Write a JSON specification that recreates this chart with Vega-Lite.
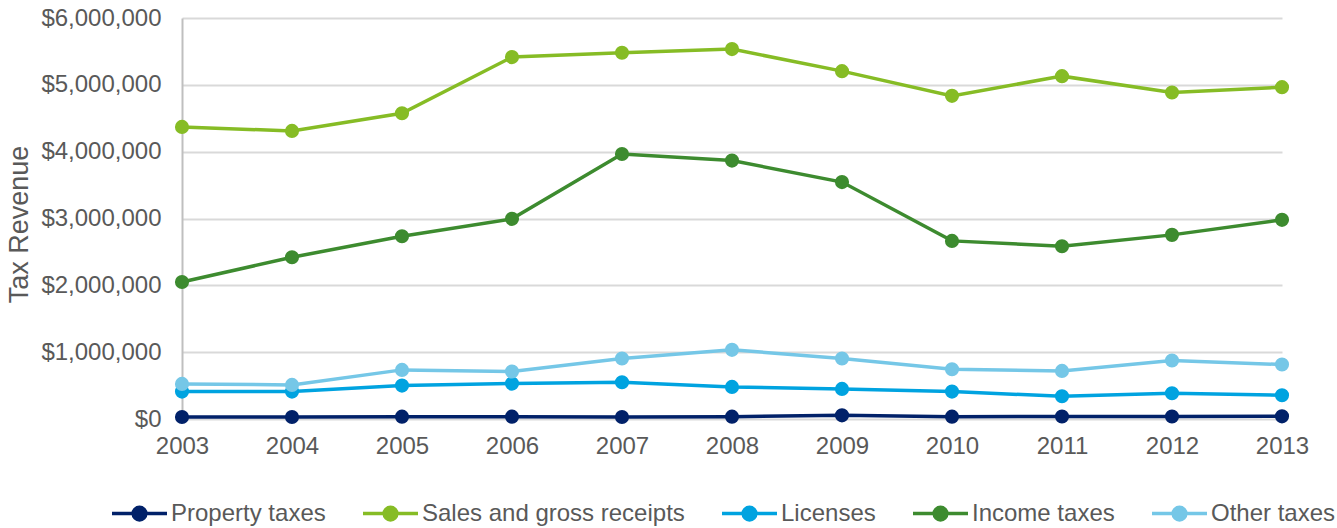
{
  "$schema": "https://vega.github.io/schema/vega-lite/v6.json",
  "width": 1100,
  "height": 401,
  "autosize": {"type": "none"},
  "padding": {"left": 182, "top": 18, "right": 55, "bottom": 109},
  "background": "white",
  "config": {
    "view": {"stroke": null},
    "font": "Liberation Sans"
  },
  "data": {
    "values": [
      {"year": "2003", "series": "Property taxes", "value": 30000},
      {"year": "2004", "series": "Property taxes", "value": 30000},
      {"year": "2005", "series": "Property taxes", "value": 35000},
      {"year": "2006", "series": "Property taxes", "value": 35000},
      {"year": "2007", "series": "Property taxes", "value": 30000},
      {"year": "2008", "series": "Property taxes", "value": 35000},
      {"year": "2009", "series": "Property taxes", "value": 55000},
      {"year": "2010", "series": "Property taxes", "value": 35000},
      {"year": "2011", "series": "Property taxes", "value": 38000},
      {"year": "2012", "series": "Property taxes", "value": 38000},
      {"year": "2013", "series": "Property taxes", "value": 40000},
      {"year": "2003", "series": "Sales and gross receipts", "value": 4370000},
      {"year": "2004", "series": "Sales and gross receipts", "value": 4310000},
      {"year": "2005", "series": "Sales and gross receipts", "value": 4575000},
      {"year": "2006", "series": "Sales and gross receipts", "value": 5415000},
      {"year": "2007", "series": "Sales and gross receipts", "value": 5480000},
      {"year": "2008", "series": "Sales and gross receipts", "value": 5535000},
      {"year": "2009", "series": "Sales and gross receipts", "value": 5205000},
      {"year": "2010", "series": "Sales and gross receipts", "value": 4835000},
      {"year": "2011", "series": "Sales and gross receipts", "value": 5130000},
      {"year": "2012", "series": "Sales and gross receipts", "value": 4885000},
      {"year": "2013", "series": "Sales and gross receipts", "value": 4965000},
      {"year": "2003", "series": "Licenses", "value": 410000},
      {"year": "2004", "series": "Licenses", "value": 410000},
      {"year": "2005", "series": "Licenses", "value": 500000},
      {"year": "2006", "series": "Licenses", "value": 530000},
      {"year": "2007", "series": "Licenses", "value": 550000},
      {"year": "2008", "series": "Licenses", "value": 480000},
      {"year": "2009", "series": "Licenses", "value": 450000},
      {"year": "2010", "series": "Licenses", "value": 410000},
      {"year": "2011", "series": "Licenses", "value": 340000},
      {"year": "2012", "series": "Licenses", "value": 385000},
      {"year": "2013", "series": "Licenses", "value": 355000},
      {"year": "2003", "series": "Income taxes", "value": 2050000},
      {"year": "2004", "series": "Income taxes", "value": 2420000},
      {"year": "2005", "series": "Income taxes", "value": 2735000},
      {"year": "2006", "series": "Income taxes", "value": 2995000},
      {"year": "2007", "series": "Income taxes", "value": 3965000},
      {"year": "2008", "series": "Income taxes", "value": 3867000},
      {"year": "2009", "series": "Income taxes", "value": 3545000},
      {"year": "2010", "series": "Income taxes", "value": 2665000},
      {"year": "2011", "series": "Income taxes", "value": 2585000},
      {"year": "2012", "series": "Income taxes", "value": 2755000},
      {"year": "2013", "series": "Income taxes", "value": 2980000},
      {"year": "2003", "series": "Other taxes", "value": 525000},
      {"year": "2004", "series": "Other taxes", "value": 510000},
      {"year": "2005", "series": "Other taxes", "value": 735000},
      {"year": "2006", "series": "Other taxes", "value": 710000},
      {"year": "2007", "series": "Other taxes", "value": 905000},
      {"year": "2008", "series": "Other taxes", "value": 1035000},
      {"year": "2009", "series": "Other taxes", "value": 905000},
      {"year": "2010", "series": "Other taxes", "value": 745000},
      {"year": "2011", "series": "Other taxes", "value": 720000},
      {"year": "2012", "series": "Other taxes", "value": 875000},
      {"year": "2013", "series": "Other taxes", "value": 815000}
    ]
  },
  "encoding": {
    "x": {
      "field": "year",
      "type": "ordinal",
      "sort": null,
      "scale": {"type": "point", "padding": 0},
      "axis": {
        "title": null,
        "labelAngle": 0,
        "labelFontSize": 24,
        "labelColor": "#595959",
        "labelPadding": 15,
        "ticks": false,
        "domain": false,
        "grid": false
      }
    },
    "y": {
      "field": "value",
      "type": "quantitative",
      "scale": {"domain": [0, 6000000], "nice": false},
      "axis": {
        "title": "Tax Revenue",
        "titleFontSize": 27,
        "titleFontWeight": "normal",
        "titleColor": "#595959",
        "titleAngle": -90,
        "titleX": -163,
        "titleY": 206,
        "titleAlign": "center",
        "titleBaseline": "middle",
        "values": [0, 1000000, 2000000, 3000000, 4000000, 5000000, 6000000],
        "format": "$,.0f",
        "labelFontSize": 24,
        "labelColor": "#595959",
        "labelPadding": 21,
        "ticks": false,
        "domain": true,
        "domainColor": "#BFBFBF",
        "domainWidth": 2,
        "grid": true,
        "gridColor": "#D9D9D9",
        "gridWidth": 2
      }
    },
    "color": {
      "field": "series",
      "type": "nominal",
      "sort": ["Property taxes", "Sales and gross receipts", "Licenses", "Income taxes", "Other taxes"],
      "scale": {
        "domain": ["Property taxes", "Sales and gross receipts", "Licenses", "Income taxes", "Other taxes"],
        "range": ["#012169", "#86BC25", "#00A3E0", "#3D8B2F", "#75C7E7"]
      },
      "legend": {
        "title": null,
        "orient": "none",
        "direction": "horizontal",
        "columns": 5,
        "legendX": -72,
        "legendY": 466,
        "labelFontSize": 24,
        "labelLimit": 500,
        "labelColor": "#595959",
        "labelOffset": 2,
        "columnPadding": 30,
        "symbolType": "M-1,0H-0.23A0.23,0.23 0 1,1 0.23,0A0.23,0.23 0 1,1 -0.23,0M0.23,0H1",
        "symbolSize": 3025,
        "symbolStrokeWidth": 3.5,
        "encode": {
          "symbols": {
            "update": {
              "fill": {"scale": "color", "field": "value"},
              "stroke": {"scale": "color", "field": "value"},
              "fillOpacity": {"value": 1},
              "strokeWidth": {"value": 3.5}
            }
          }
        }
      }
    }
  },
  "layer": [
    {
      "mark": {"type": "line", "strokeWidth": 3.5},
      "encoding": {"detail": {"field": "series"}}
    },
    {
      "mark": {"type": "circle", "size": 200, "opacity": 1}
    }
  ]
}
